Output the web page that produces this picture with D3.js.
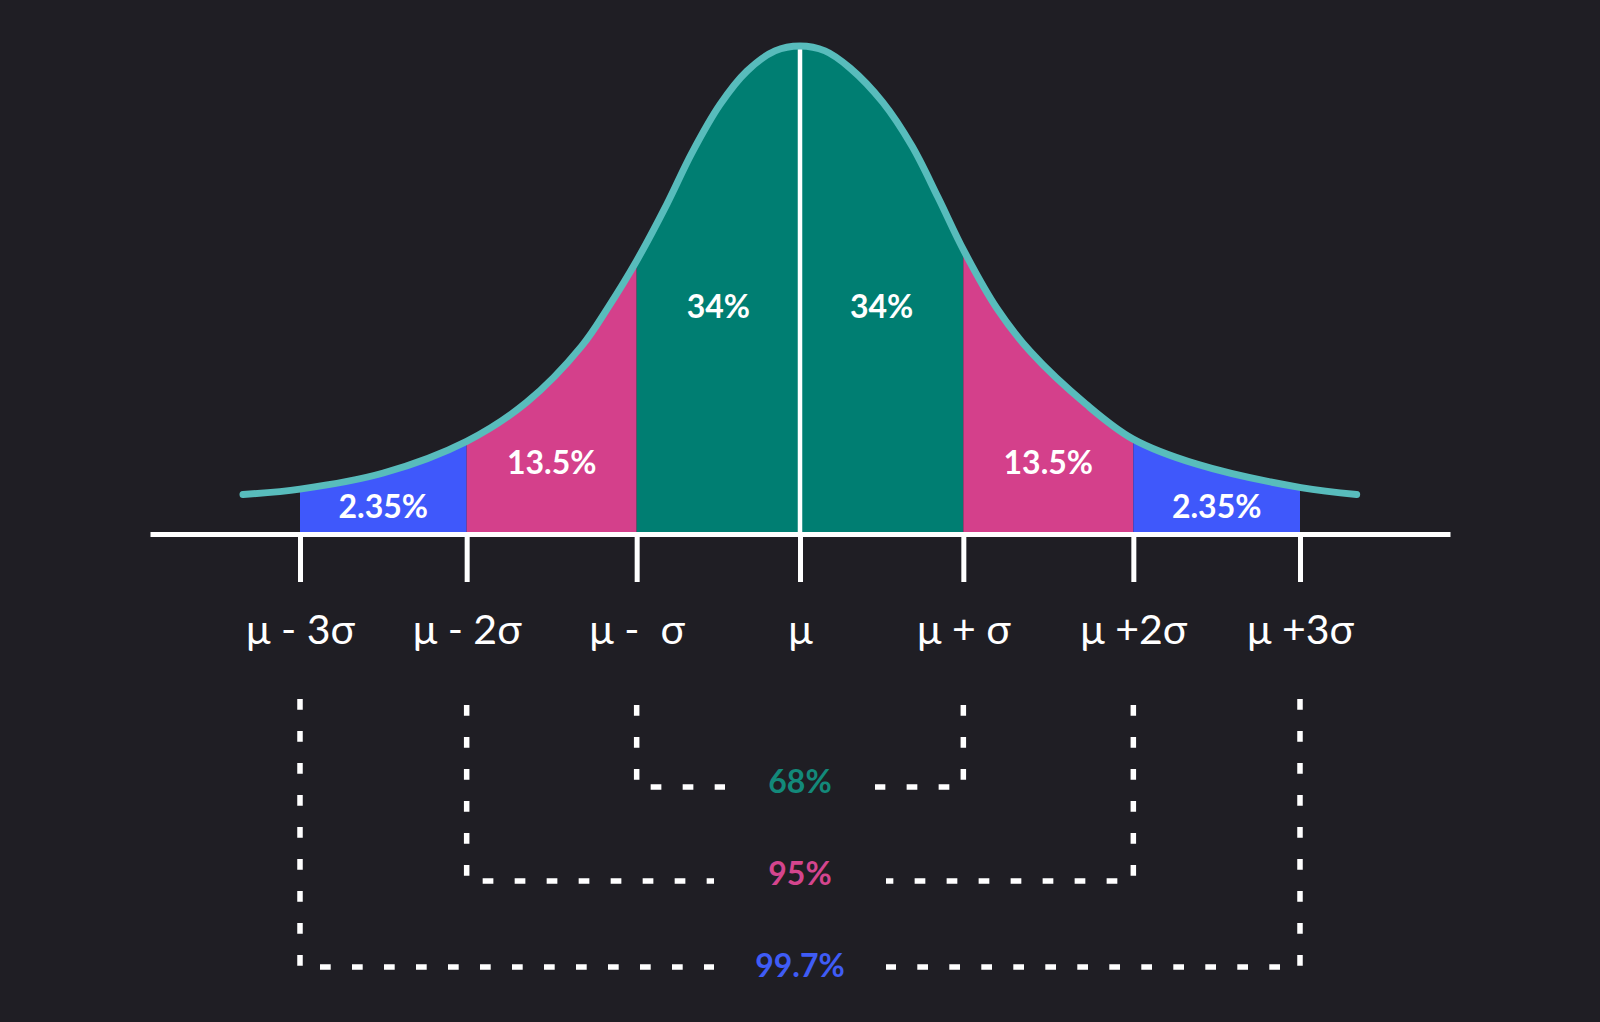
<!DOCTYPE html>
<html>
<head>
<meta charset="utf-8">
<script src="https://cdn.jsdelivr.net/npm/d3@7"></script>
<style>
  html, body { margin: 0; padding: 0; background: #1f1e24; }
  svg { display: block; }
  text { font-family: Lato, "Open Sans", sans-serif; }
</style>
</head>
<body>
<svg id="chart" width="1600" height="1022"></svg>
<script>
// ---------- data ----------
// curve samples: position in sigma units, height relative to the peak
const curveZ = [-3.342, -3.0, -2.5, -2.0, -1.64, -1.31, -1.15, -0.98, -0.8, -0.65, -0.48, -0.32, -0.15, 0,
                0.15, 0.30, 0.496, 0.672, 0.828, 0.984, 1.182, 1.384, 1.716, 1.996, 2.382, 3.006, 3.34];
const curveH = [0.081, 0.092, 0.125, 0.19, 0.27, 0.385, 0.465, 0.56, 0.675, 0.78, 0.88, 0.948, 0.99, 1.0,
                0.99, 0.955, 0.885, 0.795, 0.69, 0.58, 0.462, 0.373, 0.266, 0.195, 0.143, 0.095, 0.081];

// band edges in sigma units and band shares
const bandEdges  = [-3, -2, -0.98, 0, 0.98, 2, 3];
const bandLabels = ["2.35%", "13.5%", "34%", "34%", "13.5%", "2.35%"];
const bandKinds  = ["tail", "mid", "core", "core", "mid", "tail"];

// axis ticks
const tickValues = [-3, -2, -0.98, 0, 0.98, 2, 3];
const tickLabels = ["μ - 3σ", "μ - 2σ", "μ -  σ", "μ", "μ + σ", "μ +2σ", "μ +3σ"];

// cumulative coverage ranges: k sigma on each side
const coverK      = [1, 2, 3];
const coverLabels = ["68%", "95%", "99.7%"];

// ---------- styling ----------
const fillColor  = { tail: "#3f58fb", mid: "#d4408b", core: "#007e72" };
const coverColor = ["#13897a", "#d4458e", "#3f5cf6"];
const bandLabelY = { tail: 518, mid: 474, core: 318 };
const coverLayout = [
  { top: 705, bottom: 787, gapL: 725, gapR: 875, textY: 793 },
  { top: 705, bottom: 881, gapL: 714, gapR: 886, textY: 885 },
  { top: 699, bottom: 967, gapL: 714, gapR: 886, textY: 977 }
];

const svg = d3.select("#chart");
const W = 1600, H = 1022;
svg.append("rect").attr("width", W).attr("height", H).attr("fill", "#1f1e24");

const x = d3.scaleLinear().domain([-3.9, 3.9]).range([150, 1450]);
const y = d3.scaleLinear().domain([0, 1]).range([534, 46]);
const axisY = 534;

const pts = curveZ.map((z, i) => ({ z, h: curveH[i] }));
const curveType = d3.curveCatmullRom.alpha(0.5);

const area = d3.area()
  .x(d => x(d.z))
  .y0(y(0))
  .y1(d => y(d.h))
  .curve(curveType);

const line = d3.line()
  .x(d => x(d.z))
  .y(d => y(d.h))
  .curve(curveType);

const defs = svg.append("defs");
const bands = bandLabels.map((lab, i) => ({
  i, lab, kind: bandKinds[i], z0: bandEdges[i], z1: bandEdges[i + 1]
}));

bands.forEach(b => {
  defs.append("clipPath").attr("id", "band" + b.i)
    .append("rect")
    .attr("x", x(b.z0)).attr("width", x(b.z1) - x(b.z0))
    .attr("y", 0).attr("height", axisY);
});

// filled bands
svg.append("g").selectAll("path")
  .data(bands).join("path")
  .attr("d", area(pts))
  .attr("clip-path", d => `url(#band${d.i})`)
  .attr("fill", d => fillColor[d.kind]);

// band labels
svg.append("g").selectAll("text")
  .data(bands).join("text")
  .attr("x", d => x((d.z0 + d.z1) / 2))
  .attr("y", d => bandLabelY[d.kind])
  .attr("text-anchor", "middle")
  .attr("fill", "#ffffff")
  .attr("font-size", 32)
  .attr("font-weight", 700)
  .text(d => d.lab);

// center (mean) line
svg.append("line")
  .attr("x1", x(0)).attr("x2", x(0))
  .attr("y1", axisY).attr("y2", y(1))
  .attr("stroke", "#ffffff").attr("stroke-width", 4.5);

// curve
svg.append("path")
  .attr("d", line(pts))
  .attr("fill", "none")
  .attr("stroke", "#58bcbc")
  .attr("stroke-width", 7)
  .attr("stroke-linecap", "round");

// axis
const axis = d3.axisBottom(x)
  .tickValues(tickValues)
  .tickSizeInner(48)
  .tickSizeOuter(0)
  .tickFormat((d, i) => tickLabels[i]);

const gAxis = svg.append("g").attr("transform", `translate(0,${axisY})`).call(axis);
gAxis.select(".domain").attr("stroke", "#ffffff").attr("stroke-width", 5);
gAxis.selectAll(".tick line").attr("stroke", "#ffffff").attr("stroke-width", 5);
gAxis.selectAll(".tick text")
  .attr("y", 110).attr("dy", 0)
  .attr("fill", "#ffffff")
  .attr("font-size", 41)
  .attr("font-family", "Lato, 'Open Sans', sans-serif")
  .style("white-space", "pre");

// coverage brackets
const cover = coverK.map((k, i) => ({ k, lab: coverLabels[i], color: coverColor[i], L: coverLayout[i] }));
const gCov = svg.append("g");
cover.forEach(c => {
  const xl = x(-outerTick(c.k)), xr = x(outerTick(c.k));
  const pL = d3.path(); pL.moveTo(xl, c.L.top); pL.lineTo(xl, c.L.bottom); pL.lineTo(c.L.gapL, c.L.bottom);
  const pR = d3.path(); pR.moveTo(xr, c.L.top); pR.lineTo(xr, c.L.bottom); pR.lineTo(c.L.gapR, c.L.bottom);
  [pL, pR].forEach(p => gCov.append("path")
    .attr("d", p.toString())
    .attr("fill", "none")
    .attr("stroke", "#ffffff")
    .attr("stroke-width", 5.5)
    .attr("stroke-dasharray", "10.7 21.3"));
  gCov.append("text")
    .attr("x", x(0)).attr("y", c.L.textY)
    .attr("text-anchor", "middle")
    .attr("fill", c.color)
    .attr("font-size", 32)
    .attr("font-weight", 700)
    .text(c.lab);
});

function outerTick(k) {
  // tick value k sigma to the right of the mean
  return Math.abs(tickValues[3 + k]);
}
</script>
</body>
</html>
